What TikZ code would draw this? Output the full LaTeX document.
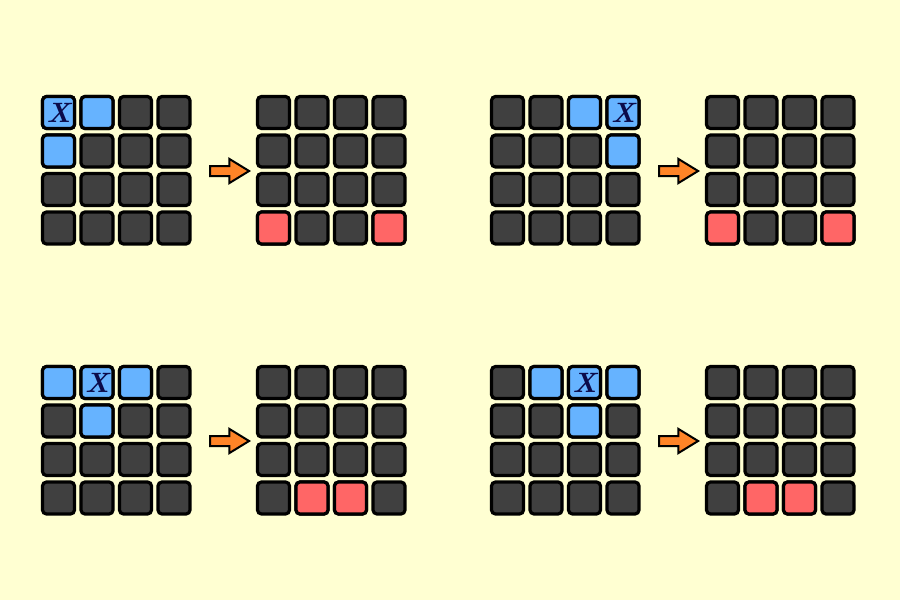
\documentclass[tikz,border=0pt]{standalone}
\usetikzlibrary{shapes.arrows}

\definecolor{bgyellow}{HTML}{FFFFD2}
\definecolor{cellgray}{HTML}{404040}
\definecolor{hitblue}{HTML}{66B3FF}
\definecolor{resred}{HTML}{FF6666}
\definecolor{arroworange}{HTML}{FF8427}
\definecolor{marknavy}{HTML}{0B0B4A}

\tikzset{
  cell/.style={draw=black, line width=3.2pt, rounded corners=4pt, minimum size=32pt, inner sep=0pt, fill=cellgray},
  hit/.style={cell, fill=hitblue},
  res/.style={cell, fill=resred},
  flow/.style={single arrow, draw=black, fill=arroworange, line width=2pt, minimum height=39pt, minimum width=21pt,
    single arrow tip angle=63, inner xsep=0pt, inner ysep=4pt},
  crossmark/.style={text=marknavy, font=\fontsize{28}{28}\selectfont\bfseries\itshape, inner sep=0pt}
}

\begin{document}
\begin{tikzpicture}[x=1pt, y=-1pt]
  \fill[bgyellow] (0,0) rectangle (900,600);
  \useasboundingbox (0,0) rectangle (900,600);

  % four boards, each input -> output
  \foreach \px/\py/\pn in {41/95/a, 490/95/b, 41/365/c, 490/365/d} {
    \foreach \r in {0,...,3} {
      \foreach \c in {0,...,3} {
        \node[cell] (\pn-in-\r-\c) at (\px+17.5+38.5*\c, \py+17.5+38.5*\r) {};
        \node[cell] (\pn-out-\r-\c) at (\px+232.5+38.5*\c, \py+17.5+38.5*\r) {};
      }
    }
    \node[flow] (\pn-arrow) at (\px+184.5, \py+76) {};
  }

  % highlighted input cells
  \foreach \pn/\r/\c in {a/0/0, a/0/1, a/1/0, b/0/2, b/0/3, b/1/3,
                         c/0/0, c/0/1, c/0/2, c/1/1, d/0/1, d/0/2, d/0/3, d/1/2} {
    \node[hit] (\pn-hit-\r-\c) at (\pn-in-\r-\c) {};
  }
  % result cells
  \foreach \pn/\r/\c in {a/3/0, a/3/3, b/3/0, b/3/3, c/3/1, c/3/2, d/3/1, d/3/2} {
    \node[res] (\pn-res-\r-\c) at (\pn-out-\r-\c) {};
  }
  % marked cells
  \foreach \pn/\c in {a/0, b/3, c/1, d/2} {
    \node[crossmark] (\pn-mark) at (\pn-in-0-\c) {X};
  }
\end{tikzpicture}
\end{document}
